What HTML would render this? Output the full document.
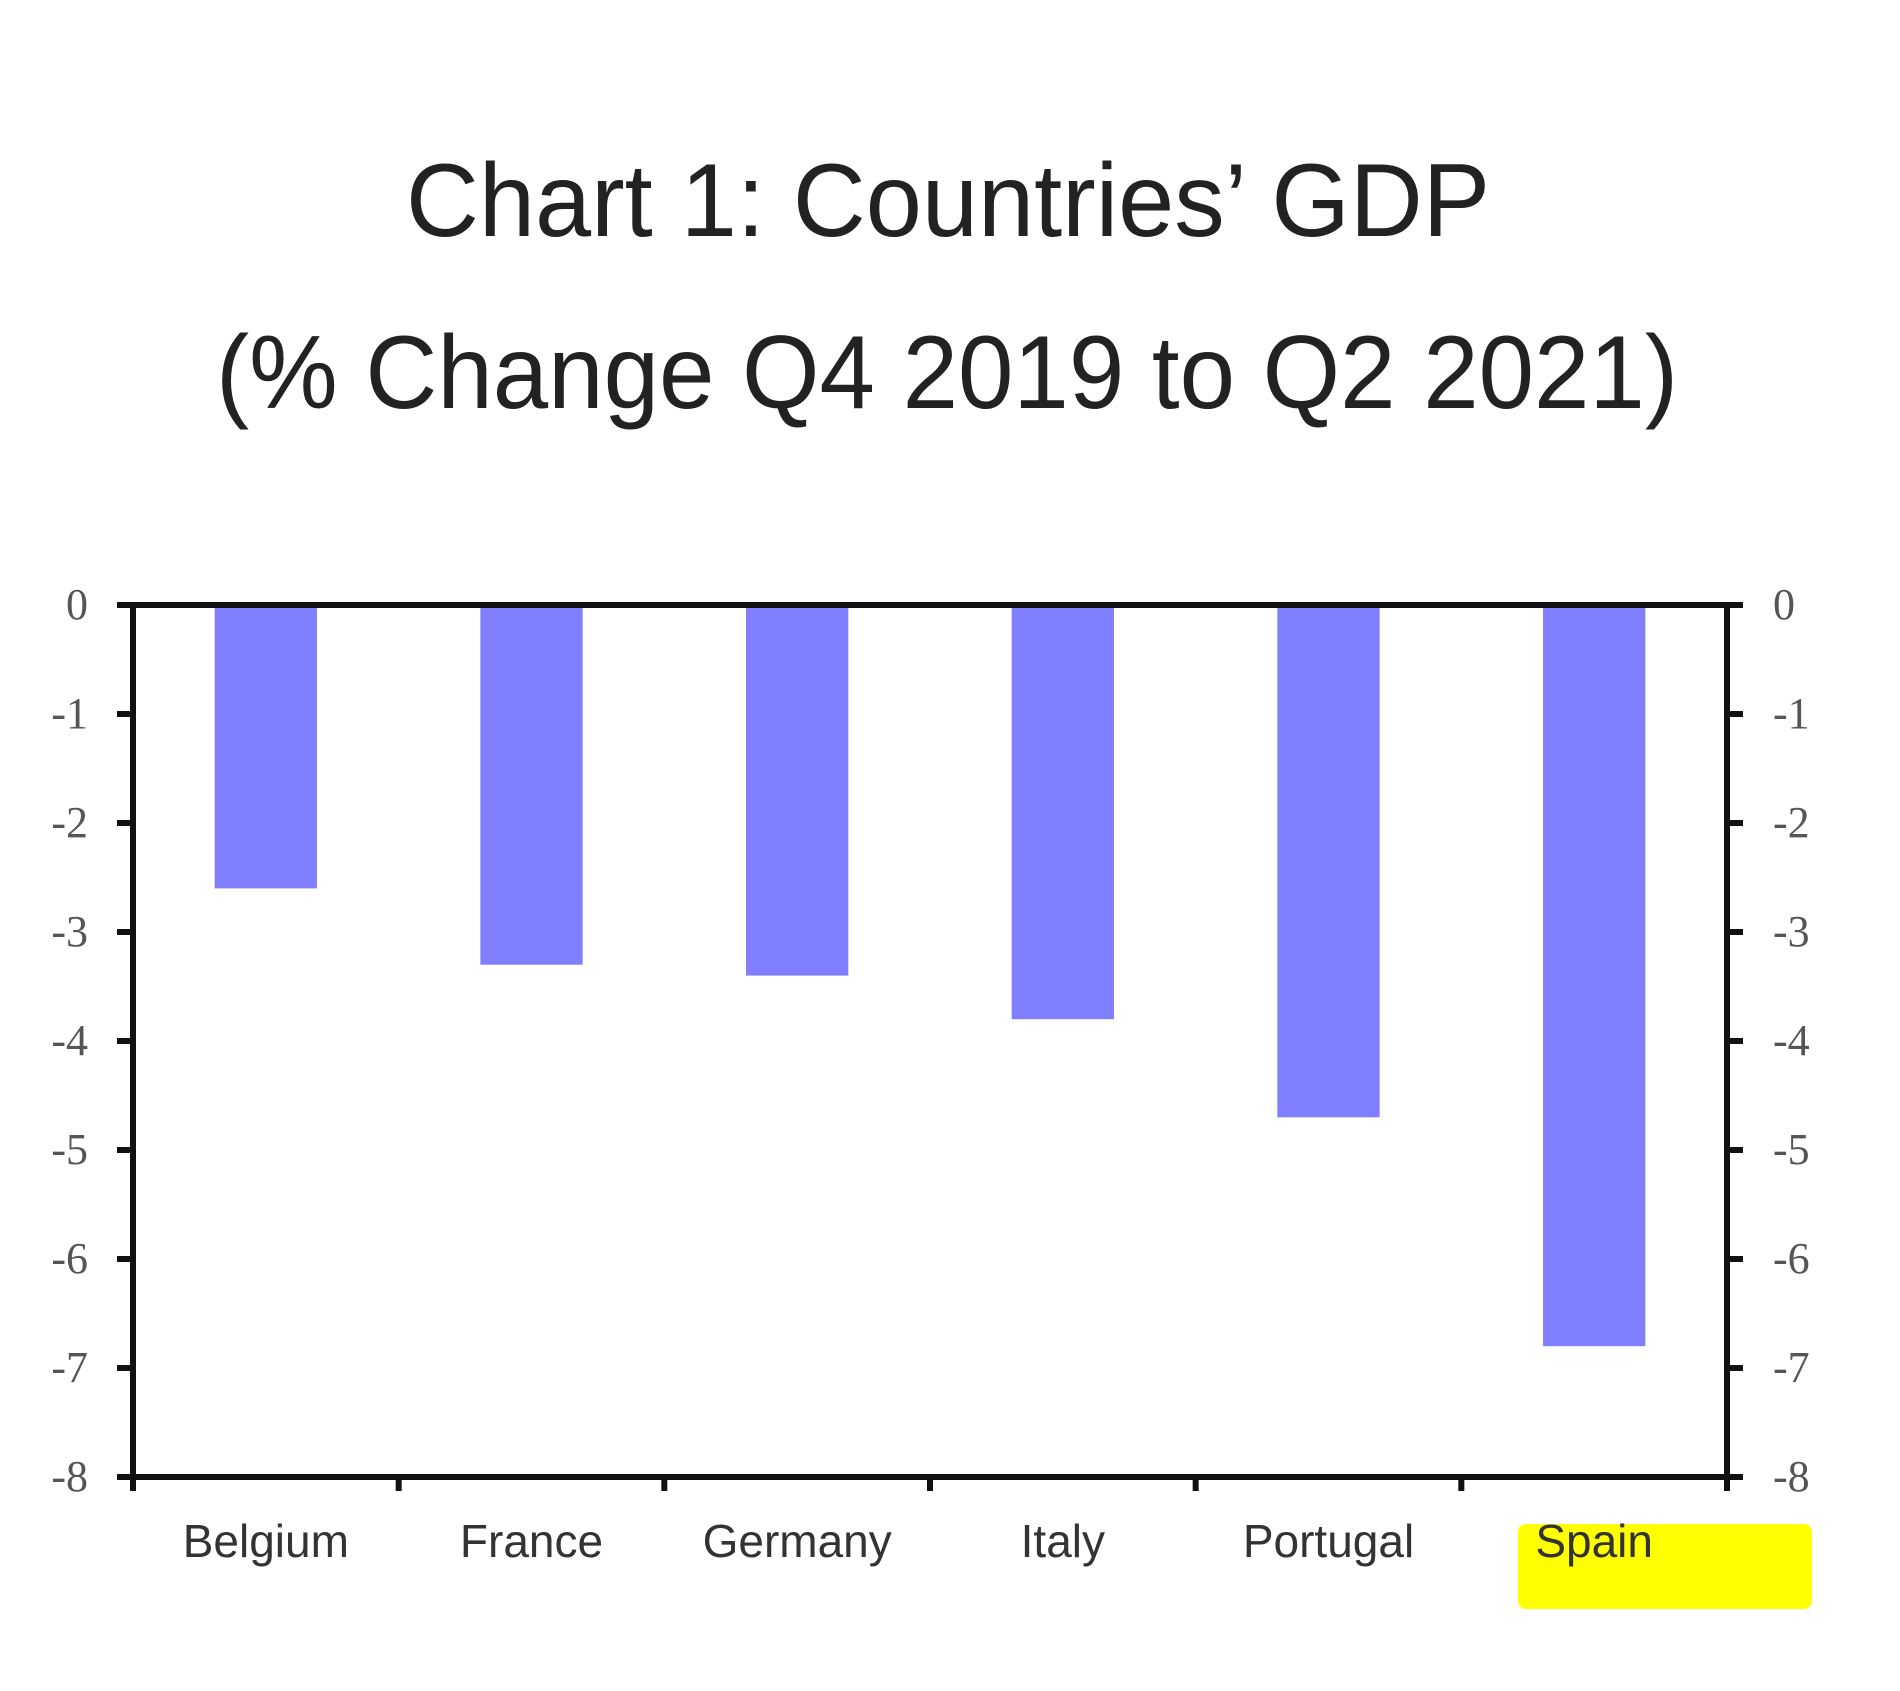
<!DOCTYPE html>
<html><head><meta charset="utf-8"><style>
html,body{margin:0;padding:0;background:#fff;}
svg{display:block;}
</style></head><body>
<svg id="chart" width="1900" height="1691" viewBox="0 0 1900 1691" xmlns="http://www.w3.org/2000/svg">
<rect width="1900" height="1691" fill="#fff"/>
<text x="948" y="236" text-anchor="middle" font-family="Liberation Sans, sans-serif" font-size="104" fill="#222" textLength="1084" lengthAdjust="spacingAndGlyphs">Chart 1: Countries’ GDP</text>
<text x="947" y="408" text-anchor="middle" font-family="Liberation Sans, sans-serif" font-size="104" fill="#222" textLength="1462" lengthAdjust="spacingAndGlyphs">(% Change Q4 2019 to Q2 2021)</text>
<rect x="1518" y="1524" width="294" height="85" rx="8" fill="#ffff00"/>
<g id="plot"></g>
</svg>
<script>
const categories = ["Belgium","France","Germany","Italy","Portugal","Spain"];
const gdpChange = [-2.6, -3.3, -3.4, -3.8, -4.7, -6.8];
const yTicks = [0,-1,-2,-3,-4,-5,-6,-7,-8];

const L=133, R=1727, T=605, B=1477, yMin=-8, yMax=0;
const NS="http://www.w3.org/2000/svg";
const g=document.getElementById('plot');
function y(v){return T+(yMax-v)/(yMax-yMin)*(B-T);}
const band=(R-L)/categories.length;
function xc(i){return L+band*(i+0.5);}
function mk(tag,attrs,parent){const e=document.createElementNS(NS,tag);for(const k in attrs)e.setAttribute(k,attrs[k]);(parent||g).appendChild(e);return e;}

const bw=band*0.385;
gdpChange.forEach((v,i)=>{
  const r=mk('rect',{x:xc(i)-bw/2,y:y(0),width:bw,height:y(v)-y(0),fill:'#7f7fff'});
  
  
});
// frame
const fr=mk('rect',{x:L,y:T,width:R-L,height:B-T,fill:'none',stroke:'#111','stroke-width':6});


yTicks.forEach(t=>{
  const yy=y(t);
  const tl=mk('line',{x1:L-16,x2:L,y1:yy,y2:yy,stroke:'#111','stroke-width':6});
  
  
  const tr=mk('line',{x1:R,x2:R+16,y1:yy,y2:yy,stroke:'#111','stroke-width':6});
  
  
  const a=mk('text',{x:88,y:yy+14,'text-anchor':'end','font-family':'Liberation Serif, serif','font-size':44,fill:'#555'});
  a.textContent=String(t).replace('-','-');
  
  
  const b=mk('text',{x:1773,y:yy+14,'text-anchor':'start','font-family':'Liberation Serif, serif','font-size':44,fill:'#555'});
  b.textContent=String(t);
  
  
});
for(let i=0;i<=categories.length;i++){
  const xx=L+band*i;
  const tk=mk('line',{x1:xx,x2:xx,y1:B,y2:B+14,stroke:'#111','stroke-width':6});
  
  
}
categories.forEach((c,i)=>{
  const t=mk('text',{x:xc(i),y:1557,'text-anchor':'middle','font-family':'Liberation Sans Narrow, Liberation Sans, sans-serif','font-size':46,fill:'#333'});
  t.textContent=c;
  
  
});
</script>
</body></html>
